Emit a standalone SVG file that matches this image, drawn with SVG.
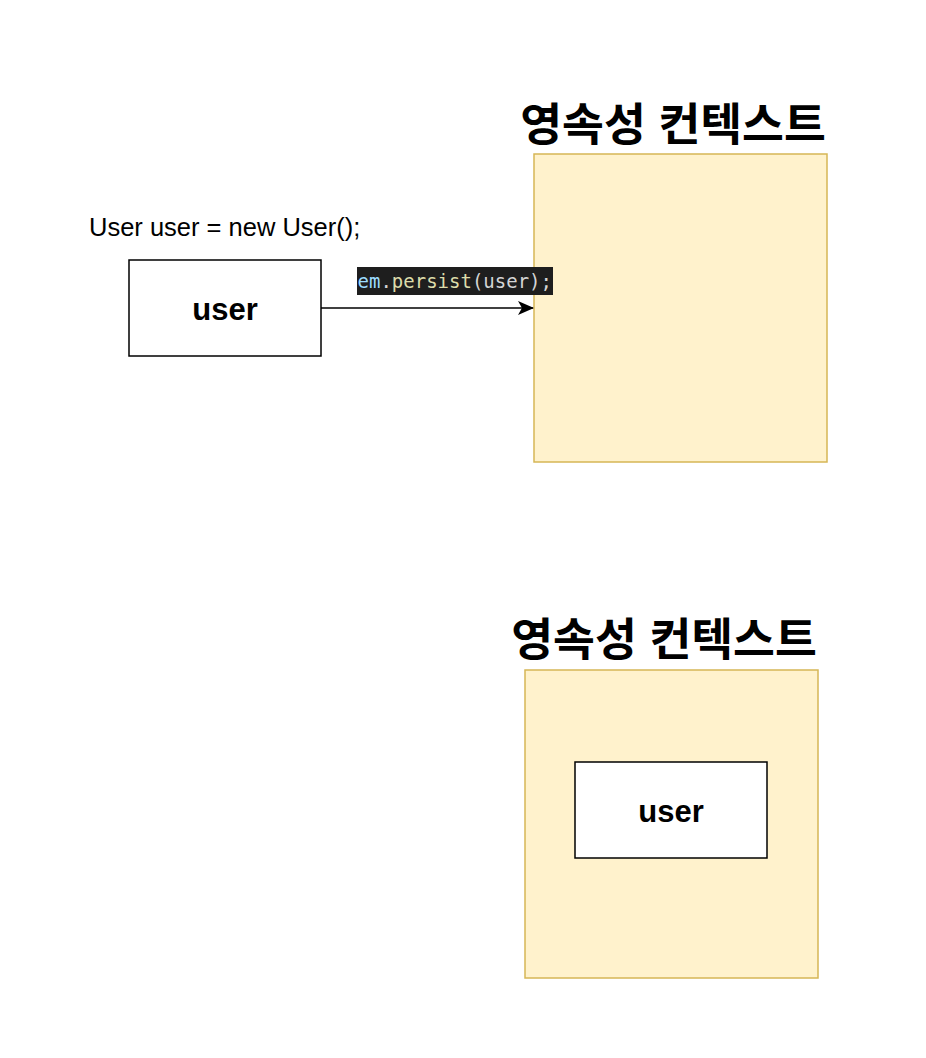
<svg xmlns="http://www.w3.org/2000/svg" width="926" height="1058" viewBox="0 0 926 1058">
<style>
.ctx{fill:#fff2cc;stroke:#d6b656;stroke-width:1.5}
.box{fill:#fff;stroke:#000;stroke-width:1.5}
.title{font-family:"Liberation Sans","Noto Sans CJK KR",sans-serif;font-weight:bold;font-size:45.5px;text-anchor:middle;fill:#000}
.lbl{font-family:"Liberation Sans",Arial,sans-serif;font-weight:bold;font-size:31px;text-anchor:middle;fill:#000}
.code{font-family:"DejaVu Sans Mono","Liberation Mono",monospace;font-size:19px}
</style>
<defs>
<marker id="arr" viewBox="0 0 16 14" refX="15" refY="7" markerWidth="16" markerHeight="14" markerUnits="userSpaceOnUse" orient="auto">
<path d="M0,0 L16,7 L0,14 L4,7 Z" fill="#000"/>
</marker>
</defs>
<g id="ctx1">
<rect class="ctx" x="534" y="154" width="293" height="308"/>
<text class="title" x="673" y="141">영속성 컨텍스트</text>
</g>
<g id="user1">
<rect class="box" x="129" y="260" width="192" height="96"/>
<text class="lbl" x="225" y="320">user</text>
</g>
<text x="89" y="236" font-family="Liberation Sans,Arial,sans-serif" font-size="25.5" fill="#000">User user = new User();</text>
<g id="connectors">
<path d="M321,308 L533,308" stroke="#000" stroke-width="1.5" fill="none" marker-end="url(#arr)"/>
<rect x="357" y="267" width="196" height="28" fill="#1e1e1e"/>
<text class="code" x="357.5" y="288"><tspan fill="#9cdcfe">em</tspan><tspan fill="#d4d4d4">.</tspan><tspan fill="#dcdcaa">persist</tspan><tspan fill="#d4d4d4">(user);</tspan></text>
</g>
<g id="ctx2">
<rect class="ctx" x="525" y="670" width="293" height="308"/>
<text class="title" x="664" y="656">영속성 컨텍스트</text>
</g>
<g id="user2">
<rect class="box" x="575" y="762" width="192" height="96"/>
<text class="lbl" x="671" y="822">user</text>
</g>
</svg>
